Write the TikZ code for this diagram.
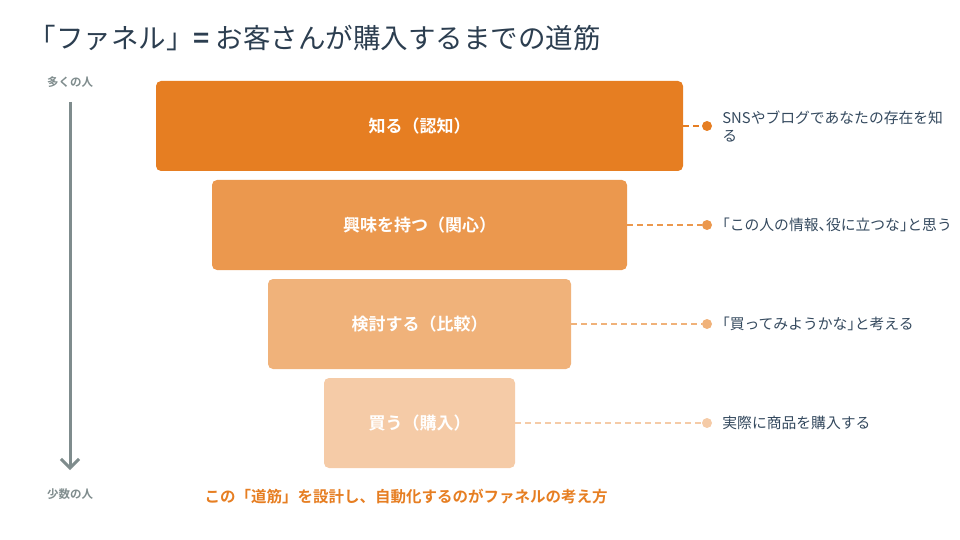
\documentclass[tikz,border=0pt]{standalone}
\usepackage{fontspec}
\setmainfont{Noto Sans CJK JP}[BoldFont={Noto Sans CJK JP Bold}]
\usetikzlibrary{positioning,arrows.meta}

\definecolor{carrotA}{HTML}{E67E22}
\definecolor{carrotB}{HTML}{EB984E}
\definecolor{carrotC}{HTML}{F0B27A}
\definecolor{carrotD}{HTML}{F5CBA7}
\definecolor{titleink}{HTML}{2C3E50}
\definecolor{descink}{HTML}{34495E}
\definecolor{axisgray}{HTML}{7F8C8D}

% half-width corner brackets and comma
\newcommand{\lbr}{\makebox[0.5em][r]{「}}
\newcommand{\rbr}{\makebox[0.5em][l]{」}}
\newcommand{\tcomma}{\makebox[0.5em][l]{、}}

\begin{document}
\begin{tikzpicture}[x=1pt, y=-1pt,
    stage/.style={rounded corners=5pt, minimum height=90pt, text=white,
      font=\fontsize{17}{20}\selectfont\bfseries, inner sep=0pt},
    dot/.style={circle, minimum size=10pt, inner sep=0pt},
    link/.style={dashed, dash pattern=on 6pt off 4pt, line width=1.3pt},
    desc/.style={right=10pt of #1, anchor=west, text=descink, align=left,
      font=\fontsize{14.8}{18}\selectfont, inner sep=0pt},
    people/.style={text=axisgray, font=\fontsize{11.5}{13}\selectfont\bfseries}]
  \useasboundingbox (0,0) rectangle (960,540);

  % title
  \node[anchor=west, text=titleink, font=\fontsize{27.5}{30}\selectfont]
    (title) at (25,38) {「ファネル」\textbf{=} お客さんが購入するまでの道筋};

  % axis: many people -> few people
  \node[people] (many) at (70,82) {多くの人};
  \node[people] (few) at (70,494) {少数の人};
  \draw[axisgray, line width=3pt, -{Straight Barb[length=9pt, width=18pt, line width=3pt]}]
    (70,102) -- (70,470);

  % funnel stages
  \node[stage, fill=carrotA, minimum width=527pt] (know) at (419.5,126) {知る（認知）};
  \node[stage, fill=carrotB, minimum width=415pt] (interest) at (419.5,225) {興味を持つ（関心）};
  \node[stage, fill=carrotC, minimum width=303pt] (compare) at (419.5,324) {検討する（比較）};
  \node[stage, fill=carrotD, minimum width=191pt] (buy) at (419.5,423) {買う（購入）};

  % markers
  \node[dot, fill=carrotA] (knowdot) at (707,126) {};
  \node[dot, fill=carrotB] (interestdot) at (707,225) {};
  \node[dot, fill=carrotC] (comparedot) at (707,324) {};
  \node[dot, fill=carrotD] (buydot) at (707,423) {};

  \draw[link, carrotA] (know.east) -- (knowdot.west);
  \draw[link, carrotB] (interest.east) -- (interestdot.west);
  \draw[link, carrotC] (compare.east) -- (comparedot.west);
  \draw[link, carrotD] (buy.east) -- (buydot.west);

  % what the customer does
  \node[desc=knowdot] (knowtxt) {SNSやブログであなたの存在を知\\る};
  \node[desc=interestdot] (interesttxt) {\lbr この人の情報\tcomma 役に立つな\rbr と思う};
  \node[desc=comparedot] (comparetxt) {\lbr 買ってみようかな\rbr と考える};
  \node[desc=buydot] (buytxt) {実際に商品を購入する};

  % footer
  \node[text=carrotA, font=\fontsize{15.5}{18}\selectfont\bfseries]
    (footer) at (406,497) {この「道筋」を設計し、自動化するのがファネルの考え方};
\end{tikzpicture}
\end{document}
